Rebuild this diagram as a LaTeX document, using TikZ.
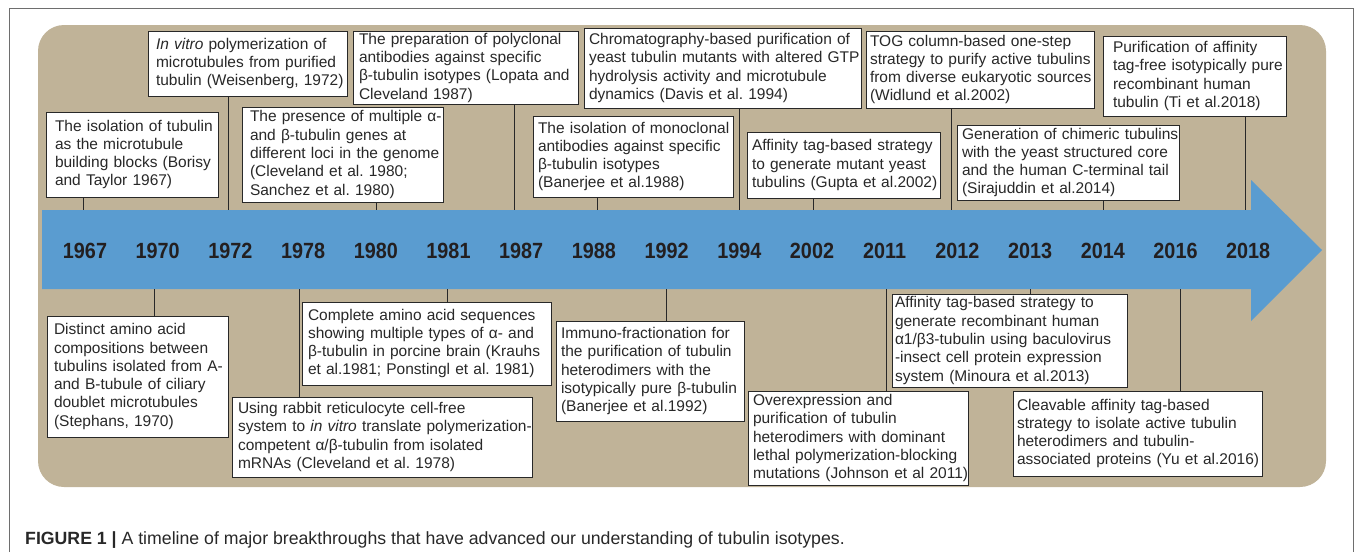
\documentclass[tikz,border=0pt]{standalone}
\usepackage{fontspec}
\setmainfont{Liberation Sans}
\newfontfamily\yearfont[FakeStretch=0.9]{Liberation Sans}
\definecolor{panelbeige}{RGB}{192,179,152}
\definecolor{arrowblue}{RGB}{90,156,208}
\definecolor{inkgray}{RGB}{40,40,40}
\definecolor{yearink}{RGB}{35,31,32}
\definecolor{framegray}{RGB}{110,110,110}
\tikzset{
  event/.style={draw=inkgray, fill=white, line width=1pt, anchor=north west, outer sep=0pt,
    inner xsep=3pt, inner ysep=2pt, align=left, text=inkgray,
    font=\fontsize{15.5}{18.3}\selectfont,
    execute at begin node={\frenchspacing\hyphenpenalty=10000\leftskip=#1\rightskip=-20pt plus 1fil\relax}},
  event/.default=2pt,
  year/.style={font=\yearfont\bfseries\fontsize{22}{22}\selectfont, text=yearink, inner sep=0pt},
  link/.style={draw=inkgray, line width=0.9pt},
  caption/.style={font=\fontsize{17.7}{17.7}\selectfont, text=inkgray, inner sep=0pt, anchor=base west}
}

\begin{document}
\begin{tikzpicture}[x=1pt,y=-1pt]
  \useasboundingbox (0,0) rectangle (1355,552);
  \draw[framegray, line width=1pt] (9,552) -- (9,8) -- (1353,8) -- (1353,552);
  \fill[panelbeige, rounded corners=26pt] (38,25) rectangle (1326,487);
  \fill[arrowblue] (42,210) -- (1251,210) -- (1251,180) -- (1322,250) -- (1251,321) -- (1251,289) -- (42,289) -- cycle;

  % years on the arrow
  \node[year] (y1967) at (85,251) {1967};
  \node[year] (y1970) at (157.7,251) {1970};
  \node[year] (y1972) at (230.4,251) {1972};
  \node[year] (y1978) at (303.1,251) {1978};
  \node[year] (y1980) at (375.8,251) {1980};
  \node[year] (y1981) at (448.5,251) {1981};
  \node[year] (y1987) at (521.2,251) {1987};
  \node[year] (y1988) at (593.9,251) {1988};
  \node[year] (y1992) at (666.6,251) {1992};
  \node[year] (y1994) at (739.3,251) {1994};
  \node[year] (y2002) at (812,251) {2002};
  \node[year] (y2011) at (884.7,251) {2011};
  \node[year] (y2012) at (957.4,251) {2012};
  \node[year] (y2013) at (1030.1,251) {2013};
  \node[year] (y2014) at (1102.8,251) {2014};
  \node[year] (y2016) at (1175.5,251) {2016};
  \node[year] (y2018) at (1248.2,251) {2018};

  % ends of the connectors on the arrow
  \coordinate (t67) at (83,210);
  \coordinate (t72) at (228,210);
  \coordinate (t80) at (376,210);
  \coordinate (t87) at (514,210);
  \coordinate (t88) at (597,210);
  \coordinate (t94) at (739,210);
  \coordinate (t02) at (813,210);
  \coordinate (t02w) at (951,210);
  \coordinate (t14) at (1103,210);
  \coordinate (t18) at (1245,210);
  \coordinate (u70) at (154,289);
  \coordinate (u78) at (299,289);
  \coordinate (u81) at (447,289);
  \coordinate (u92) at (666,289);
  \coordinate (u11) at (886,289);
  \coordinate (u13) at (1030,289);
  \coordinate (u16) at (1180,289);

  % events above the arrow
  \node[event=6pt, text width=166pt, minimum height=85pt] (b67) at (46,112)
    {The isolation of tubulin\\as the microtubule\\building blocks (Borisy\\and Taylor 1967)};
  \node[event=5pt, text width=193pt, minimum height=65pt] (b72) at (148,31)
    {\textit{In vitro} polymerization of\\microtubules from purified\\tubulin (Weisenberg, 1972)};
  \node[event=5pt, text width=195pt, minimum height=95pt] (b80) at (242,107)
    {The presence of multiple α-\\and β-tubulin genes at\\different loci in the genome\\(Cleveland et al. 1980;\\Sanchez et al. 1980)};
  \node[event=3pt, text width=219pt, minimum height=73pt] (b87) at (353,31)
    {The preparation of polyclonal\\antibodies against specific\\β-tubulin isotypes (Lopata and\\Cleveland 1987)};
  \node[event, text width=194pt, minimum height=81pt] (b88) at (533,116)
    {The isolation of monoclonal\\antibodies against specific\\β-tubulin isotypes\\(Banerjee et al.1988)};
  \node[event, text width=271pt, minimum height=80pt] (b94) at (584,28)
    {Chromatography-based purification of\\yeast tubulin mutants with altered GTP\\hydrolysis activity and microtubule\\dynamics (Davis et al. 1994)};
  \node[event, text width=187pt, minimum height=66pt] (b02) at (747,132)
    {Affinity tag-based strategy\\to generate mutant yeast\\tubulins (Gupta et al.2002)};
  \node[event=1pt, text width=222pt, minimum height=77pt] (b02w) at (866,31)
    {TOG column-based one-step\\strategy to purify active tubulins\\from diverse eukaryotic sources\\(Widlund et al.2002)};
  \node[event, text width=216pt, minimum height=75pt] (b14) at (957,125)
    {Generation of chimeric tubulins\\with the yeast structured core\\and the human C-terminal tail\\(Sirajuddin et al.2014)};
  \node[event=7pt, text width=177pt, minimum height=80pt] (b18) at (1103,36)
    {Purification of affinity\\tag-free isotypically pure\\recombinant human\\tubulin (Ti et al.2018)};

  % events below the arrow
  \node[event=4pt, text width=175pt, minimum height=121pt] (c70) at (47,316)
    {Distinct amino acid\\compositions between\\tubulins isolated from A-\\and B-tubule of ciliary\\doublet microtubules\\(Stephans, 1970)};
  \node[event=3pt, text width=294pt, minimum height=80pt] (c78) at (232,397)
    {Using rabbit reticulocyte cell-free\\system to \textit{in vitro} translate polymerization-\\competent α/β-tubulin from isolated\\mRNAs (Cleveland et al. 1978)};
  \node[event=3pt, text width=243pt, minimum height=83pt] (c81) at (302,302)
    {Complete amino acid sequences\\showing multiple types of α- and\\β-tubulin in porcine brain (Krauhs\\et al.1981; Ponstingl et al. 1981)};
  \node[event, text width=182pt, minimum height=100pt] (c92) at (556,321)
    {Immuno-fractionation for\\the purification of tubulin\\heterodimers with the\\isotypically pure β-tubulin\\(Banerjee et al.1992)};
  \node[event, text width=214pt, minimum height=94pt] (c11) at (748,391)
    {Overexpression and\\purification of tubulin\\heterodimers with dominant\\lethal polymerization-blocking\\mutations (Johnson et al 2011)};
  \node[event=0pt, text width=229pt, minimum height=93pt] (c13) at (892,294)
    {Affinity tag-based strategy to\\generate recombinant human\\α1/β3-tubulin using baculovirus\\-insect cell protein expression\\system (Minoura et al.2013)};
  \node[event=1pt, text width=243pt, minimum height=85pt] (c16) at (1013,391)
    {Cleavable affinity tag-based\\strategy to isolate active tubulin\\heterodimers and tubulin-\\associated proteins (Yu et al.2016)};

  % connectors
  \draw[link] (b67.south -| t67) -- (t67);
  \draw[link] (b72.south -| t72) -- (t72);
  \draw[link] (b80.south -| t80) -- (t80);
  \draw[link] (b87.south -| t87) -- (t87);
  \draw[link] (b88.south -| t88) -- (t88);
  \draw[link] (b94.south -| t94) -- (t94);
  \draw[link] (b02.south -| t02) -- (t02);
  \draw[link] (b02w.south -| t02w) -- (t02w);
  \draw[link] (b14.south -| t14) -- (t14);
  \draw[link] (b18.south -| t18) -- (t18);
  \draw[link] (u70) -- (u70 |- c70.north);
  \draw[link] (u78) -- (u78 |- c78.north);
  \draw[link] (u81) -- (u81 |- c81.north);
  \draw[link] (u92) -- (u92 |- c92.north);
  \draw[link] (u11) -- (u11 |- c11.north);
  \draw[link] (u13) -- (u13 |- c13.north);
  \draw[link] (u16) -- (u16 |- c16.north);

  \node[caption] (cap) at (25,544)
    {\textbf{FIGURE 1 |} A timeline of major breakthroughs that have advanced our understanding of tubulin isotypes.};
\end{tikzpicture}
\end{document}
